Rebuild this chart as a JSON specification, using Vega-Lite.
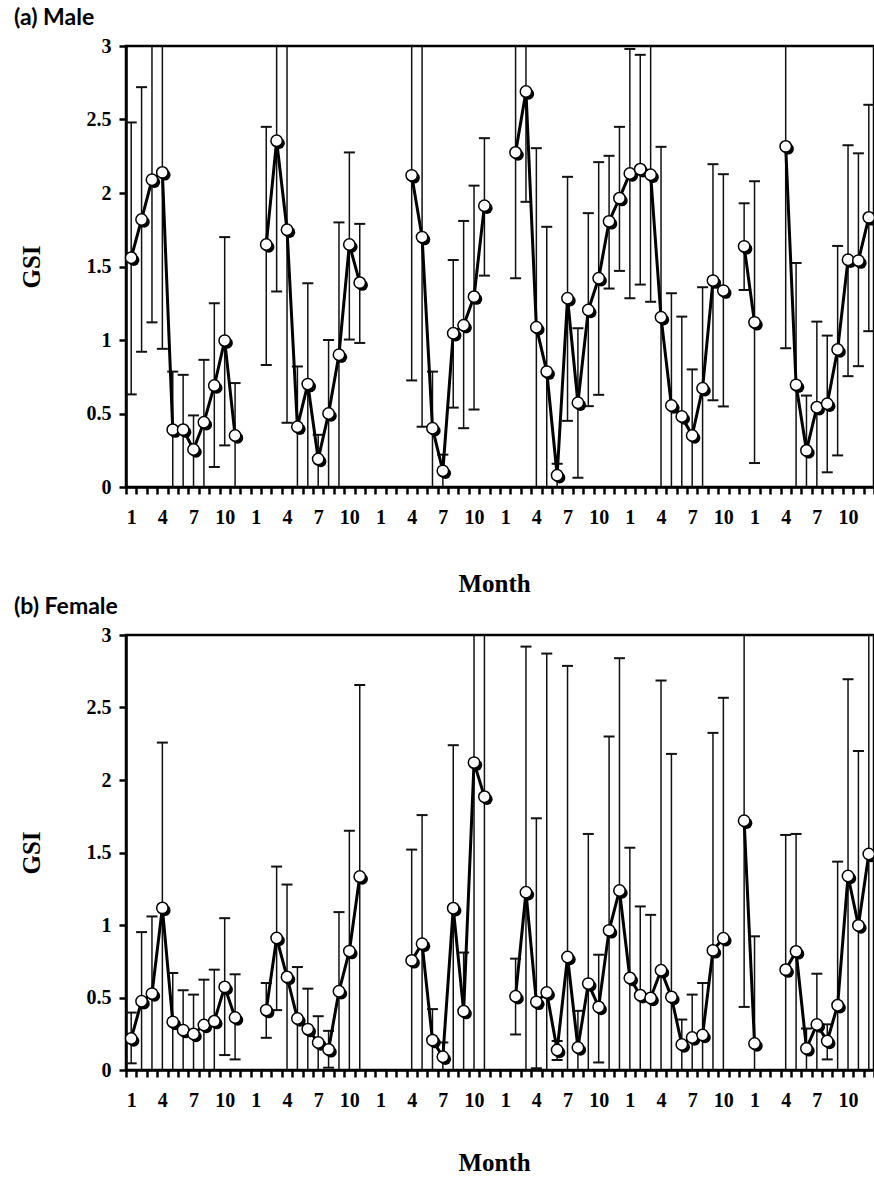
{
  "$schema": "https://vega.github.io/schema/vega-lite/v6.json",
  "background": "white",
  "padding": {"left": 12, "top": 5, "right": 2, "bottom": 0},
  "config": {
    "view": {"stroke": "black", "strokeWidth": 2.5},
    "axis": {
      "domainColor": "black", "domainWidth": 2.5,
      "tickColor": "black", "tickWidth": 2.5, "tickSize": 7,
      "labelFont": "Liberation Serif", "labelFontSize": 20, "labelFontWeight": "bold", "labelColor": "black",
      "titleFont": "Liberation Serif", "titleFontSize": 25, "titleFontWeight": "bold", "titleColor": "black",
      "grid": false
    },
    "title": {"font": "Lato", "fontSize": 23, "fontWeight": "bold", "color": "black"}
  },
  "datasets": {
    "male": [
      {"m": 1, "gsi": 1.56, "lo": 0.63, "hi": 2.48, "run": 1},
      {"m": 2, "gsi": 1.82, "lo": 0.92, "hi": 2.72, "run": 1},
      {"m": 3, "gsi": 2.09, "lo": 1.12, "hi": 3.06, "run": 1},
      {"m": 4, "gsi": 2.14, "lo": 0.94, "hi": 3.34, "run": 1},
      {"m": 5, "gsi": 0.39, "lo": -0.01, "hi": 0.785, "run": 1},
      {"m": 6, "gsi": 0.39, "lo": -0.01, "hi": 0.763, "run": 1},
      {"m": 7, "gsi": 0.255, "lo": -0.01, "hi": 0.487, "run": 1},
      {"m": 8, "gsi": 0.44, "lo": -0.01, "hi": 0.865, "run": 1},
      {"m": 9, "gsi": 0.69, "lo": 0.136, "hi": 1.25, "run": 1},
      {"m": 10, "gsi": 0.996, "lo": 0.283, "hi": 1.7, "run": 1},
      {"m": 11, "gsi": 0.35, "lo": -0.01, "hi": 0.707, "run": 1},
      {"m": 14, "gsi": 1.65, "lo": 0.83, "hi": 2.45, "run": 2},
      {"m": 15, "gsi": 2.355, "lo": 1.33, "hi": 3.38, "run": 2},
      {"m": 16, "gsi": 1.75, "lo": 0.437, "hi": 3.06, "run": 2},
      {"m": 17, "gsi": 0.41, "lo": -0.01, "hi": 0.82, "run": 2},
      {"m": 18, "gsi": 0.7, "lo": -0.01, "hi": 1.386, "run": 2},
      {"m": 19, "gsi": 0.19, "lo": -0.01, "hi": 0.355, "run": 2},
      {"m": 20, "gsi": 0.5, "lo": -0.01, "hi": 1.0, "run": 2},
      {"m": 21, "gsi": 0.9, "lo": -0.01, "hi": 1.8, "run": 2},
      {"m": 22, "gsi": 1.65, "lo": 1.003, "hi": 2.276, "run": 2},
      {"m": 23, "gsi": 1.39, "lo": 0.98, "hi": 1.79, "run": 2},
      {"m": 28, "gsi": 2.12, "lo": 0.725, "hi": 3.52, "run": 3},
      {"m": 29, "gsi": 1.7, "lo": 0.41, "hi": 3.05, "run": 3},
      {"m": 30, "gsi": 0.4, "lo": -0.01, "hi": 0.785, "run": 3},
      {"m": 31, "gsi": 0.11, "lo": -0.01, "hi": 0.22, "run": 3},
      {"m": 32, "gsi": 1.046, "lo": 0.54, "hi": 1.544, "run": 3},
      {"m": 33, "gsi": 1.1, "lo": 0.4, "hi": 1.81, "run": 3},
      {"m": 34, "gsi": 1.295, "lo": 0.527, "hi": 2.05, "run": 3},
      {"m": 35, "gsi": 1.913, "lo": 1.438, "hi": 2.373, "run": 3},
      {"m": 38, "gsi": 2.276, "lo": 1.42, "hi": 3.13, "run": 4},
      {"m": 39, "gsi": 2.69, "lo": 1.94, "hi": 3.44, "run": 4},
      {"m": 40, "gsi": 1.087, "lo": -0.13, "hi": 2.305, "run": 4},
      {"m": 41, "gsi": 0.785, "lo": -0.2, "hi": 1.77, "run": 4},
      {"m": 42, "gsi": 0.08, "lo": -0.01, "hi": 0.158, "run": 4},
      {"m": 43, "gsi": 1.284, "lo": 0.45, "hi": 2.11, "run": 4},
      {"m": 44, "gsi": 0.573, "lo": 0.063, "hi": 1.08, "run": 4},
      {"m": 45, "gsi": 1.204, "lo": 0.55, "hi": 1.863, "run": 4},
      {"m": 46, "gsi": 1.42, "lo": 0.627, "hi": 2.21, "run": 4},
      {"m": 47, "gsi": 1.807, "lo": 1.35, "hi": 2.253, "run": 4},
      {"m": 48, "gsi": 1.965, "lo": 1.47, "hi": 2.45, "run": 4},
      {"m": 49, "gsi": 2.133, "lo": 1.284, "hi": 2.98, "run": 4},
      {"m": 50, "gsi": 2.162, "lo": 1.377, "hi": 2.94, "run": 4},
      {"m": 51, "gsi": 2.124, "lo": 1.26, "hi": 3.02, "run": 4},
      {"m": 52, "gsi": 1.155, "lo": -0.01, "hi": 2.314, "run": 4},
      {"m": 53, "gsi": 0.554, "lo": -0.2, "hi": 1.318, "run": 4},
      {"m": 54, "gsi": 0.48, "lo": -0.2, "hi": 1.159, "run": 4},
      {"m": 55, "gsi": 0.35, "lo": -0.1, "hi": 0.8, "run": 4},
      {"m": 56, "gsi": 0.672, "lo": -0.01, "hi": 1.359, "run": 4},
      {"m": 57, "gsi": 1.404, "lo": 0.59, "hi": 2.196, "run": 4},
      {"m": 58, "gsi": 1.336, "lo": 0.548, "hi": 2.128, "run": 4},
      {"m": 60, "gsi": 1.637, "lo": 1.34, "hi": 1.93, "run": 5},
      {"m": 61, "gsi": 1.12, "lo": 0.163, "hi": 2.08, "run": 5},
      {"m": 64, "gsi": 2.317, "lo": 0.944, "hi": 3.69, "run": 6},
      {"m": 65, "gsi": 0.695, "lo": -0.13, "hi": 1.524, "run": 6},
      {"m": 66, "gsi": 0.249, "lo": -0.12, "hi": 0.622, "run": 6},
      {"m": 67, "gsi": 0.543, "lo": -0.04, "hi": 1.125, "run": 6},
      {"m": 68, "gsi": 0.566, "lo": 0.1, "hi": 1.03, "run": 6},
      {"m": 69, "gsi": 0.935, "lo": 0.215, "hi": 1.64, "run": 6},
      {"m": 70, "gsi": 1.546, "lo": 0.754, "hi": 2.325, "run": 6},
      {"m": 71, "gsi": 1.54, "lo": 0.822, "hi": 2.27, "run": 6},
      {"m": 72, "gsi": 1.834, "lo": 1.06, "hi": 2.6, "run": 6}
    ],
    "female": [
      {"m": 1, "gsi": 0.217, "lo": 0.046, "hi": 0.396, "run": 1},
      {"m": 2, "gsi": 0.474, "lo": -0.01, "hi": 0.951, "run": 1},
      {"m": 3, "gsi": 0.527, "lo": -0.01, "hi": 1.059, "run": 1},
      {"m": 4, "gsi": 1.118, "lo": -0.02, "hi": 2.258, "run": 1},
      {"m": 5, "gsi": 0.332, "lo": -0.01, "hi": 0.669, "run": 1},
      {"m": 6, "gsi": 0.275, "lo": -0.01, "hi": 0.55, "run": 1},
      {"m": 7, "gsi": 0.248, "lo": -0.02, "hi": 0.52, "run": 1},
      {"m": 8, "gsi": 0.31, "lo": -0.01, "hi": 0.623, "run": 1},
      {"m": 9, "gsi": 0.337, "lo": -0.02, "hi": 0.692, "run": 1},
      {"m": 10, "gsi": 0.573, "lo": 0.103, "hi": 1.047, "run": 1},
      {"m": 11, "gsi": 0.362, "lo": 0.073, "hi": 0.66, "run": 1},
      {"m": 14, "gsi": 0.413, "lo": 0.222, "hi": 0.6, "run": 2},
      {"m": 15, "gsi": 0.91, "lo": 0.413, "hi": 1.403, "run": 2},
      {"m": 16, "gsi": 0.642, "lo": -0.01, "hi": 1.279, "run": 2},
      {"m": 17, "gsi": 0.355, "lo": -0.01, "hi": 0.71, "run": 2},
      {"m": 18, "gsi": 0.282, "lo": -0.01, "hi": 0.561, "run": 2},
      {"m": 19, "gsi": 0.19, "lo": -0.01, "hi": 0.371, "run": 2},
      {"m": 20, "gsi": 0.142, "lo": 0.016, "hi": 0.27, "run": 2},
      {"m": 21, "gsi": 0.543, "lo": -0.01, "hi": 1.089, "run": 2},
      {"m": 22, "gsi": 0.82, "lo": -0.01, "hi": 1.65, "run": 2},
      {"m": 23, "gsi": 1.334, "lo": -0.01, "hi": 2.655, "run": 2},
      {"m": 28, "gsi": 0.756, "lo": -0.01, "hi": 1.52, "run": 3},
      {"m": 29, "gsi": 0.871, "lo": -0.02, "hi": 1.758, "run": 3},
      {"m": 30, "gsi": 0.206, "lo": -0.01, "hi": 0.42, "run": 3},
      {"m": 31, "gsi": 0.091, "lo": -0.01, "hi": 0.19, "run": 3},
      {"m": 32, "gsi": 1.116, "lo": -0.01, "hi": 2.24, "run": 3},
      {"m": 33, "gsi": 0.406, "lo": -0.01, "hi": 0.81, "run": 3},
      {"m": 34, "gsi": 2.12, "lo": -0.01, "hi": 4.24, "run": 3},
      {"m": 35, "gsi": 1.885, "lo": -0.01, "hi": 3.77, "run": 3},
      {"m": 38, "gsi": 0.509, "lo": 0.245, "hi": 0.768, "run": 4},
      {"m": 39, "gsi": 1.226, "lo": -0.47, "hi": 2.92, "run": 4},
      {"m": 40, "gsi": 0.47, "lo": 0.012, "hi": 1.736, "run": 4},
      {"m": 41, "gsi": 0.534, "lo": -0.01, "hi": 2.872, "run": 4},
      {"m": 42, "gsi": 0.138, "lo": 0.069, "hi": 0.2, "run": 4},
      {"m": 43, "gsi": 0.779, "lo": -0.01, "hi": 2.787, "run": 4},
      {"m": 44, "gsi": 0.155, "lo": -0.01, "hi": 0.408, "run": 4},
      {"m": 45, "gsi": 0.596, "lo": -0.01, "hi": 1.628, "run": 4},
      {"m": 46, "gsi": 0.435, "lo": 0.052, "hi": 0.795, "run": 4},
      {"m": 47, "gsi": 0.963, "lo": -0.01, "hi": 2.3, "run": 4},
      {"m": 48, "gsi": 1.238, "lo": -0.01, "hi": 2.84, "run": 4},
      {"m": 49, "gsi": 0.635, "lo": -0.01, "hi": 1.533, "run": 4},
      {"m": 50, "gsi": 0.516, "lo": -0.01, "hi": 1.128, "run": 4},
      {"m": 51, "gsi": 0.497, "lo": -0.01, "hi": 1.07, "run": 4},
      {"m": 52, "gsi": 0.688, "lo": -0.01, "hi": 2.686, "run": 4},
      {"m": 53, "gsi": 0.504, "lo": -0.01, "hi": 2.18, "run": 4},
      {"m": 54, "gsi": 0.176, "lo": -0.01, "hi": 0.348, "run": 4},
      {"m": 55, "gsi": 0.224, "lo": -0.01, "hi": 0.52, "run": 4},
      {"m": 56, "gsi": 0.241, "lo": -0.01, "hi": 0.6, "run": 4},
      {"m": 57, "gsi": 0.825, "lo": -0.01, "hi": 2.325, "run": 4},
      {"m": 58, "gsi": 0.909, "lo": -0.01, "hi": 2.567, "run": 4},
      {"m": 60, "gsi": 1.719, "lo": 0.435, "hi": 3.2, "run": 5},
      {"m": 61, "gsi": 0.183, "lo": -0.01, "hi": 0.922, "run": 5},
      {"m": 64, "gsi": 0.692, "lo": -0.01, "hi": 1.621, "run": 6},
      {"m": 65, "gsi": 0.818, "lo": -0.01, "hi": 1.628, "run": 6},
      {"m": 66, "gsi": 0.149, "lo": -0.01, "hi": 0.286, "run": 6},
      {"m": 67, "gsi": 0.314, "lo": -0.01, "hi": 0.664, "run": 6},
      {"m": 68, "gsi": 0.2, "lo": 0.073, "hi": 0.315, "run": 6},
      {"m": 69, "gsi": 0.447, "lo": -0.01, "hi": 1.437, "run": 6},
      {"m": 70, "gsi": 1.338, "lo": -0.01, "hi": 2.695, "run": 6},
      {"m": 71, "gsi": 0.997, "lo": -0.01, "hi": 2.2, "run": 6},
      {"m": 72, "gsi": 1.49, "lo": -0.01, "hi": 3.2, "run": 6}
    ]
  },
  "spacing": 148,
  "bounds": "flush",
  "vconcat": [
    {
      "title": {"text": "(a) Male", "anchor": "start", "frame": "group", "dx": -112, "offset": 6},
      "width": 748,
      "height": 441,
      "data": {"name": "male"},
      "encoding": {
        "x": {
          "field": "m", "type": "quantitative",
          "scale": {"domain": [0.5, 72.5], "nice": false, "zero": false},
          "axis": {
            "title": "Month", "titlePadding": 44, "titleX": 368, "titleAlign": "center",
            "values": [0.5,1.5,2.5,3.5,4.5,5.5,6.5,7.5,8.5,9.5,10.5,11.5,12.5,13.5,14.5,15.5,16.5,17.5,18.5,19.5,20.5,21.5,22.5,23.5,24.5,25.5,26.5,27.5,28.5,29.5,30.5,31.5,32.5,33.5,34.5,35.5,36.5,37.5,38.5,39.5,40.5,41.5,42.5,43.5,44.5,45.5,46.5,47.5,48.5,49.5,50.5,51.5,52.5,53.5,54.5,55.5,56.5,57.5,58.5,59.5,60.5,61.5,62.5,63.5,64.5,65.5,66.5,67.5,68.5,69.5,70.5,71.5,72.5,1,4,7,10,13,16,19,22,25,28,31,34,37,40,43,46,49,52,55,58,61,64,67,70],
            "labelExpr": "datum.value % 1 == 0 ? '' + ((datum.value - 1) % 12 + 1) : ''",
            "tickOpacity": {"condition": {"test": "datum.value % 1 == 0", "value": 0}, "value": 1},
            "labelPadding": 13, "labelOverlap": false, "labelFlush": false, "labelBound": false
          }
        }
      },
      "layer": [
        {
          "mark": {"type": "rule", "strokeWidth": 1.5, "color": "#111", "clip": true},
          "encoding": {
            "y": {"field": "lo", "type": "quantitative", "scale": {"domain": [0, 3], "nice": false, "zero": false},
              "axis": {"title": "GSI", "titlePadding": 42, "values": [0, 0.5, 1, 1.5, 2, 2.5, 3], "labelExpr": "'' + datum.value", "labelPadding": 8}},
            "y2": {"field": "hi"}
          }
        },
        {
          "mark": {"type": "tick", "orient": "horizontal", "size": 11, "thickness": 2, "color": "#111", "clip": true, "opacity": 1},
          "encoding": {"y": {"field": "hi", "type": "quantitative", "title": "GSI"}}
        },
        {
          "mark": {"type": "tick", "orient": "horizontal", "size": 11, "thickness": 2, "color": "#111", "clip": true, "opacity": 1},
          "encoding": {"y": {"field": "lo", "type": "quantitative", "title": "GSI"}}
        },
        {
          "mark": {"type": "line", "strokeWidth": 3, "color": "black"},
          "encoding": {"y": {"field": "gsi", "type": "quantitative", "title": "GSI"}, "detail": {"field": "run", "type": "nominal"}}
        },
        {
          "mark": {"type": "point", "filled": true, "color": "black", "size": 130, "opacity": 1, "xOffset": 2.5, "yOffset": 2.5},
          "encoding": {"y": {"field": "gsi", "type": "quantitative", "title": "GSI"}}
        },
        {
          "mark": {"type": "point", "filled": true, "fill": "white", "stroke": "black", "strokeWidth": 1.5, "size": 130, "opacity": 1},
          "encoding": {"y": {"field": "gsi", "type": "quantitative", "title": "GSI"}}
        }
      ]
    },
    {
      "title": {"text": "(b) Female", "anchor": "start", "frame": "group", "dx": -112, "offset": 6},
      "width": 748,
      "height": 435,
      "data": {"name": "female"},
      "encoding": {
        "x": {
          "field": "m", "type": "quantitative",
          "scale": {"domain": [0.5, 72.5], "nice": false, "zero": false},
          "axis": {
            "title": "Month", "titlePadding": 40, "titleX": 368, "titleAlign": "center",
            "values": [0.5,1.5,2.5,3.5,4.5,5.5,6.5,7.5,8.5,9.5,10.5,11.5,12.5,13.5,14.5,15.5,16.5,17.5,18.5,19.5,20.5,21.5,22.5,23.5,24.5,25.5,26.5,27.5,28.5,29.5,30.5,31.5,32.5,33.5,34.5,35.5,36.5,37.5,38.5,39.5,40.5,41.5,42.5,43.5,44.5,45.5,46.5,47.5,48.5,49.5,50.5,51.5,52.5,53.5,54.5,55.5,56.5,57.5,58.5,59.5,60.5,61.5,62.5,63.5,64.5,65.5,66.5,67.5,68.5,69.5,70.5,71.5,72.5,1,4,7,10,13,16,19,22,25,28,31,34,37,40,43,46,49,52,55,58,61,64,67,70],
            "labelExpr": "datum.value % 1 == 0 ? '' + ((datum.value - 1) % 12 + 1) : ''",
            "tickOpacity": {"condition": {"test": "datum.value % 1 == 0", "value": 0}, "value": 1},
            "labelPadding": 13, "labelOverlap": false, "labelFlush": false, "labelBound": false
          }
        }
      },
      "layer": [
        {
          "mark": {"type": "rule", "strokeWidth": 1.5, "color": "#111", "clip": true},
          "encoding": {
            "y": {"field": "lo", "type": "quantitative", "scale": {"domain": [0, 3], "nice": false, "zero": false},
              "axis": {"title": "GSI", "titlePadding": 42, "values": [0, 0.5, 1, 1.5, 2, 2.5, 3], "labelExpr": "'' + datum.value", "labelPadding": 8}},
            "y2": {"field": "hi"}
          }
        },
        {
          "mark": {"type": "tick", "orient": "horizontal", "size": 11, "thickness": 2, "color": "#111", "clip": true, "opacity": 1},
          "encoding": {"y": {"field": "hi", "type": "quantitative", "title": "GSI"}}
        },
        {
          "mark": {"type": "tick", "orient": "horizontal", "size": 11, "thickness": 2, "color": "#111", "clip": true, "opacity": 1},
          "encoding": {"y": {"field": "lo", "type": "quantitative", "title": "GSI"}}
        },
        {
          "mark": {"type": "line", "strokeWidth": 3, "color": "black"},
          "encoding": {"y": {"field": "gsi", "type": "quantitative", "title": "GSI"}, "detail": {"field": "run", "type": "nominal"}}
        },
        {
          "mark": {"type": "point", "filled": true, "color": "black", "size": 130, "opacity": 1, "xOffset": 2.5, "yOffset": 2.5},
          "encoding": {"y": {"field": "gsi", "type": "quantitative", "title": "GSI"}}
        },
        {
          "mark": {"type": "point", "filled": true, "fill": "white", "stroke": "black", "strokeWidth": 1.5, "size": 130, "opacity": 1},
          "encoding": {"y": {"field": "gsi", "type": "quantitative", "title": "GSI"}}
        }
      ]
    }
  ]
}
